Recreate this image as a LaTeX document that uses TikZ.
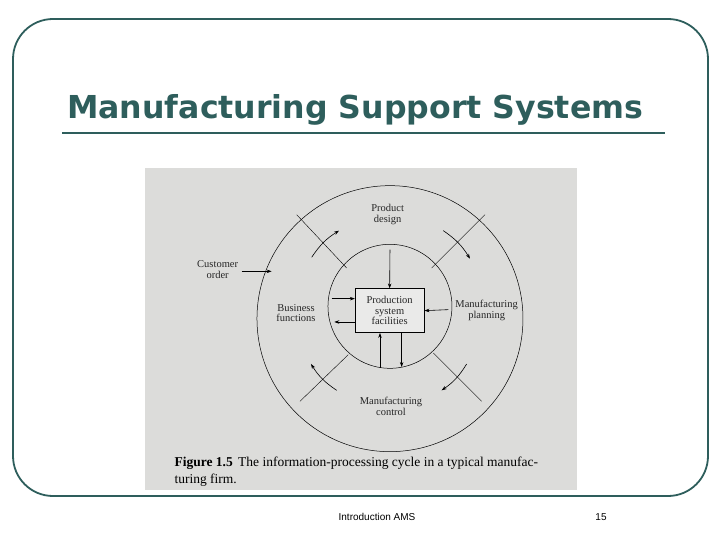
\documentclass[tikz,border=0pt]{standalone}
\usepackage{fontspec}
\setmainfont{Liberation Serif}
\newfontfamily\sans{Liberation Sans}
\newfontfamily\tsans{DejaVu Sans}
\usetikzlibrary{arrows.meta}
\definecolor{teal1}{HTML}{2E5E5C}
\definecolor{scan}{HTML}{DCDCDA}
\begin{document}
\begin{tikzpicture}[x=1pt,y=-1pt,
  lab/.style={font=\fontsize{10.5}{10.5}\selectfont,align=center,inner sep=0pt,text=black!85},
  arr/.style={-{Stealth[length=5pt,width=3.5pt]},line width=0.6pt}]
\useasboundingbox (0,0) rectangle (720,540);
\fill[white] (0,0) rectangle (720,540);
\draw[teal1,line width=1.8pt,rounded corners=40pt] (13,19) rectangle (708,496);
\node[font=\tsans\bfseries\fontsize{31.6}{33}\selectfont,text=teal1,anchor=base west,inner sep=0pt] (title) at (67,119) {Manufacturing Support Systems};
\draw[teal1,line width=1.2pt] (62,133) -- (665,133);
\node[font=\sans\fontsize{10}{12}\selectfont] (foot) at (377,517) {Introduction AMS};
\node[font=\sans\fontsize{10}{12}\selectfont] (pg) at (601,517) {15};
\fill[scan] (145,168) rectangle (577,490);
\begin{scope}[shift={(145pt,-168pt)},x=0.3333pt,y=-0.3333pt]
\node[draw,line width=0.5pt,circle,minimum size=266pt,inner sep=0pt] (outer) at (735,452) {};
\node[draw,line width=0.5pt,circle,minimum size=124pt,inner sep=0pt] (inner) at (735,415) {};
\node[draw,line width=0.5pt,fill=scan!60!white,minimum width=69pt,minimum height=44pt,inner sep=0pt] (box) at (734,428) {};
\node[lab] (pst) at (734,428) {Production\\system\\facilities};
\node[lab] (pd) at (728,140) {Product\\design};
\node[lab] (bf) at (453,435) {Business\\functions};
\node[lab] (mp) at (1025,428) {Manufacturing\\planning};
\node[lab] (mc) at (738,715) {Manufacturing\\control};
\node[lab] (co) at (218,305) {Customer\\order};
\coordinate (a1) at (455,140); \coordinate (a2) at (605,300);
\coordinate (b1) at (1020,140); \coordinate (b2) at (860,300);
\coordinate (c1) at (465,700); \coordinate (c2) at (610,560);
\coordinate (d1) at (1010,700); \coordinate (d2) at (865,555);
\draw[line width=0.4pt] (a1)--(a2) (b1)--(b2) (c1)--(c2) (d1)--(d2);
\draw[arr] (500,268) to[bend left=12] (582,188);
\draw[arr] (895,188) to[bend left=12] (975,272);
\draw[arr] (965,588) to[bend left=12] (890,667);
\draw[arr] (575,667) to[bend left=12] (498,588);
\coordinate (cos) at (290,310); \draw[arr] (cos) -- (380,310);
\draw[arr] (735,245) -- (box.north);
\draw[arr] (910,425) -- (box.east);
\draw[arr] (560,392) -- (box.west |- 0,392);
\draw[arr] (box.west |- 0,462) -- (568,462);
\draw[arr] (705,600) -- (box.south -| 705,0);
\draw[arr] (box.south -| 770,0) -- (770,597);
\node[anchor=west,font=\fontsize{13.5}{17}\selectfont,align=left,inner sep=0pt] (cap) at (88,912)
 {\textbf{Figure 1.5}\hspace{0.4em}The information-processing cycle in a typical manufac-\\turing firm.};
\end{scope}
\end{tikzpicture}
\end{document}
